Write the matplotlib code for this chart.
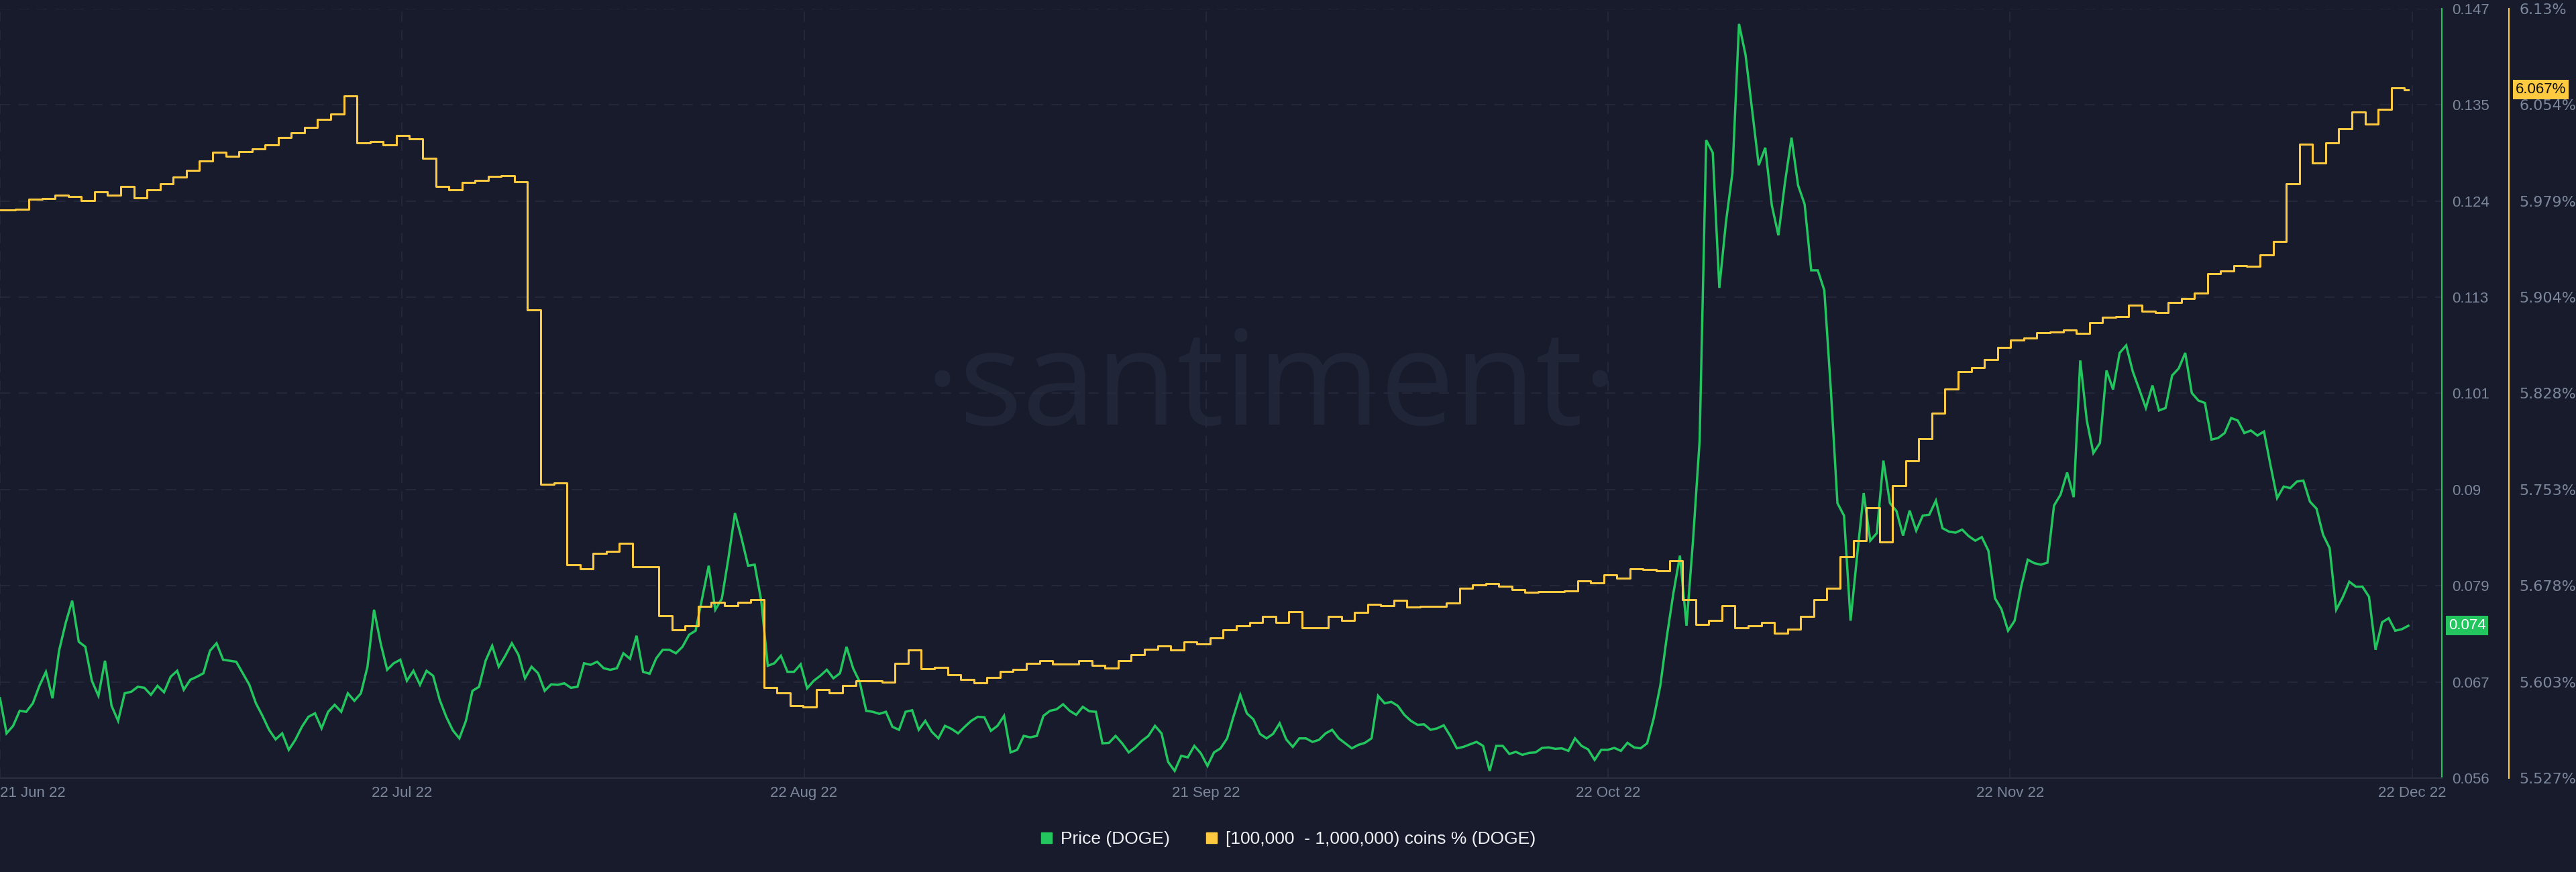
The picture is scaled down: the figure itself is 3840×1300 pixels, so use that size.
import numpy as np
import pandas as pd
import matplotlib
matplotlib.use("Agg")
import matplotlib.pyplot as plt
from matplotlib.lines import Line2D

BG = "#181b2c"
GRID = "#272b3e"
TICK = "#7c879c"
GREEN = "#22c55e"
YELLOW = "#ffc940"

# DOGE price, every 12 hours from 21 Jun 2022
price = [
    0.06544, 0.06129, 0.06218, 0.06396, 0.06384, 0.06484, 0.06691, 0.06857, 0.06544, 0.07106,
    0.07432, 0.07698, 0.07213, 0.07153, 0.06751, 0.06573, 0.06988, 0.06455, 0.06277, 0.06603,
    0.06621, 0.06680, 0.06668, 0.06585, 0.06691, 0.06615, 0.06798, 0.06869, 0.06644, 0.06763,
    0.06798, 0.06840, 0.07106, 0.07195, 0.07000, 0.06988, 0.06976, 0.06840, 0.06703, 0.06484,
    0.06336, 0.06171, 0.06058, 0.06129, 0.05934, 0.06052, 0.06206, 0.06325, 0.06366, 0.06188,
    0.06384, 0.06467, 0.06384, 0.06603, 0.06514, 0.06603, 0.06917, 0.07591, 0.07195, 0.06881,
    0.06958, 0.07000, 0.06751,
    0.06869, 0.06703, 0.06869, 0.06810, 0.06526, 0.06325, 0.06165, 0.06070, 0.06277, 0.06632,
    0.06680, 0.06988, 0.07165, 0.06917, 0.07047, 0.07195, 0.07059, 0.06780, 0.06917, 0.06840,
    0.06632, 0.06709, 0.06703, 0.06721, 0.06668, 0.06680, 0.06958, 0.06940, 0.06976, 0.06899,
    0.06881, 0.06899, 0.07076, 0.07011, 0.07284, 0.06857, 0.06834, 0.07017, 0.07118, 0.07118,
    0.07076, 0.07153, 0.07295, 0.07343, 0.07728, 0.08112, 0.07591, 0.07722, 0.08201, 0.08734,
    0.08438, 0.08112, 0.08124, 0.07698, 0.06928, 0.06958, 0.07047, 0.06857, 0.06857, 0.06946,
    0.06662, 0.06751,
    0.06810, 0.06881, 0.06780, 0.06840, 0.07153, 0.06899, 0.06739, 0.06396, 0.06384, 0.06360,
    0.06384, 0.06206, 0.06171, 0.06384, 0.06402, 0.06171, 0.06277, 0.06147, 0.06070, 0.06218,
    0.06182, 0.06129, 0.06206, 0.06277, 0.06325, 0.06319, 0.06159, 0.06218, 0.06336, 0.05904,
    0.05934, 0.06099, 0.06082, 0.06099, 0.06336, 0.06396, 0.06413, 0.06473, 0.06396, 0.06348,
    0.06443, 0.06390, 0.06384, 0.06011, 0.06017, 0.06099, 0.06011, 0.05904, 0.05963, 0.06040,
    0.06099, 0.06218, 0.06129, 0.05792, 0.05685, 0.05863, 0.05845, 0.05981, 0.05892, 0.05744,
    0.05904, 0.05952,
    0.06070, 0.06336, 0.06585, 0.06366, 0.06295, 0.06123, 0.06070, 0.06123, 0.06248, 0.06058,
    0.05969, 0.06070, 0.06070, 0.06028, 0.06052, 0.06129, 0.06171, 0.06070, 0.06011, 0.05952,
    0.05993, 0.06017, 0.06070, 0.06573, 0.06484, 0.06502, 0.06455, 0.06348, 0.06277, 0.06230,
    0.06236, 0.06171, 0.06188, 0.06224, 0.06099, 0.05952, 0.05969, 0.05999, 0.06028, 0.05981,
    0.05685, 0.05981, 0.05981, 0.05886, 0.05910, 0.05875, 0.05898, 0.05904, 0.05957, 0.05963,
    0.05946, 0.05952, 0.05922, 0.06070, 0.05981, 0.05940, 0.05815, 0.05934, 0.05934,
    0.05957, 0.05922, 0.06017, 0.05963, 0.05952, 0.06011, 0.06307, 0.06691, 0.07272, 0.07787,
    0.08231, 0.07402, 0.08420, 0.09593, 0.13145, 0.12997, 0.11398, 0.12168, 0.12760, 0.14520,
    0.14152, 0.13500, 0.12849, 0.13056, 0.12375, 0.12020, 0.12642, 0.13175, 0.12612, 0.12387,
    0.11606, 0.11606, 0.11369, 0.10185, 0.08852, 0.08704, 0.07461, 0.08231, 0.08971, 0.08408,
    0.08497, 0.09356, 0.08852, 0.08758, 0.08468, 0.08764, 0.08527, 0.08704, 0.08716, 0.08882,
    0.08556, 0.08515, 0.08503, 0.08539, 0.08462, 0.08408, 0.08450, 0.08290, 0.07728, 0.07597,
    0.07343, 0.07461,
    0.07864, 0.08183, 0.08142, 0.08124, 0.08148, 0.08823, 0.08953, 0.09214, 0.08923, 0.10540,
    0.09829, 0.09444, 0.09563, 0.10421, 0.10196, 0.10629, 0.10718, 0.10410, 0.10196, 0.09977,
    0.10244, 0.09948, 0.09977, 0.10362, 0.10445, 0.10629, 0.10155, 0.10066, 0.10037, 0.09604,
    0.09622, 0.09681, 0.09859, 0.09829, 0.09681, 0.09711, 0.09652, 0.09699, 0.09296, 0.08912,
    0.09048, 0.09030, 0.09107, 0.09119, 0.08870, 0.08787, 0.08479, 0.08320, 0.07591, 0.07739,
    0.07923, 0.07864, 0.07864, 0.07745, 0.07118, 0.07443, 0.07491, 0.07343, 0.07361, 0.07402,
]

# share of supply held by [100k - 1M) wallets, daily, in %
holders = [
    5.9721, 5.9721, 5.9729, 5.9807, 5.9811, 5.9838, 5.9830, 5.9795, 5.9866, 5.9838, 5.9909,
    5.9819, 5.9878, 5.9929, 5.9980, 6.0031, 6.0109, 6.0176, 6.0144, 6.0180, 6.0199,
    6.0231, 6.0290, 6.0325, 6.0372, 6.0435, 6.0474, 6.0619, 6.0246, 6.0258, 6.0235,
    6.0309, 6.0278, 6.0129, 5.9905, 5.9878, 5.9940, 5.9956, 5.9984, 5.9991, 5.9944,
    5.8940, 5.7575, 5.7583, 5.6943, 5.6912, 5.7030, 5.7045, 5.7112, 5.6924, 5.6927,
    5.6543, 5.6433, 5.6461, 5.6614, 5.6649, 5.6622, 5.6649, 5.6669, 5.5982, 5.5935,
    5.5837, 5.5829, 5.5962, 5.5935, 5.5994, 5.6033, 5.6033, 5.6021, 5.6170, 5.6276,
    5.6127, 5.6135, 5.6080, 5.6045, 5.6017, 5.6061, 5.6104, 5.6123, 5.6170, 5.6190,
    5.6166, 5.6162, 5.6190, 5.6151, 5.6131, 5.6190, 5.6237, 5.6280, 5.6308, 5.6276,
    5.6335, 5.6319, 5.6370, 5.6433, 5.6465, 5.6488, 5.6535, 5.6488, 5.6574, 5.6445,
    5.6449, 5.6535, 5.6504, 5.6570, 5.6633, 5.6622, 5.6661, 5.6610, 5.6614, 5.6614,
    5.6641, 5.6759, 5.6786, 5.6794, 5.6771, 5.6747, 5.6727, 5.6731, 5.6731, 5.6739,
    5.6818, 5.6802, 5.6865, 5.6837, 5.6908, 5.6904, 5.6896, 5.6975, 5.6669, 5.6476,
    5.6504, 5.6622, 5.6445, 5.6461, 5.6492, 5.6406, 5.6437, 5.6535, 5.6669, 5.6759,
    5.7006, 5.7132, 5.7387, 5.7120, 5.7563, 5.7759, 5.7928, 5.8128, 5.8320, 5.8457,
    5.8485, 5.8552, 5.8646, 5.8701, 5.8720, 5.8760, 5.8767, 5.8783, 5.8756, 5.8838,
    5.8881, 5.8889, 5.8975, 5.8928, 5.8920, 5.8995, 5.9030, 5.9073, 5.9222, 5.9246,
    5.9289, 5.9281, 5.9368, 5.9477, 5.9929, 6.0239, 6.0093, 6.0246, 6.0360, 6.0490,
    6.0395, 6.0513, 6.0682, 6.0666,
]

price_labels = ["0.056", "0.067", "0.079", "0.09", "0.101", "0.113", "0.124", "0.135", "0.147"]
pct_labels = ["5.527%", "5.603%", "5.678%", "5.753%", "5.828%", "5.904%", "5.979%", "6.054%", "6.13%"]
date_labels = ["21 Jun 22", "22 Jul 22", "22 Aug 22", "21 Sep 22", "22 Oct 22", "22 Nov 22", "22 Dec 22"]
legend_labels = ["Price (DOGE)", "[100,000  - 1,000,000) coins % (DOGE)"]

start = pd.Timestamp("2022-06-21")
price_t = start + pd.to_timedelta(np.arange(len(price)) * 12, unit="h")
hold_t = start - pd.Timedelta(hours=19.2) + pd.to_timedelta(np.arange(len(holders)), unit="D")
# close the last step at the last price sample
hold_t = list(hold_t) + [price_t[-1]]
hold_v = holders + [holders[-1]]

narrow = ["Liberation Sans Narrow", "Liberation Sans", "DejaVu Sans"]
plain = ["Liberation Sans", "DejaVu Sans"]

fig = plt.figure(figsize=(38.4, 13), dpi=100, facecolor=BG)
ax = fig.add_axes([0.0, 0.1077, 3640 / 3840, 0.8823])
ax.set_facecolor(BG)
ax2 = ax.twinx()
ax2.patch.set_visible(False)

# watermark
ax.text(0.5206, 0.4595, "\u00b7santiment\u00b7", transform=ax.transAxes, ha="center", va="baseline",
        fontsize=142, color="#212538", family=["Open Sans", "DejaVu Sans"], zorder=0)

ax.plot(price_t, price, color=GREEN, lw=2.5, zorder=3, solid_joinstyle="miter")
ax2.plot(hold_t, hold_v, color=YELLOW, lw=2.2, drawstyle="steps-post", zorder=3)

x0 = start
x1 = start + pd.Timedelta(days=186.05)
ax.set_xlim(x0, x1)
ax.set_ylim(0.056, 0.147)
ax2.set_ylim(5.527, 6.13)

xt = [start + pd.Timedelta(days=30.63 * i) for i in range(len(date_labels))]
ax.set_xticks(xt)
ax.set_xticklabels(date_labels)
ax.get_xticklabels()[0].set_ha("left")

ax.set_yticks(np.linspace(0.056, 0.147, len(price_labels)))
ax.set_yticklabels(price_labels)
ax2.set_yticks(np.linspace(5.527, 6.13, len(pct_labels)))
ax2.set_yticklabels(pct_labels)

ax.yaxis.tick_right()
ax.tick_params(axis="y", length=0, pad=11, labelcolor=TICK, labelsize=16)
ax2.tick_params(axis="y", length=0, pad=11, labelcolor=TICK, labelsize=16)
ax.tick_params(axis="x", length=0, pad=9, labelcolor=TICK, labelsize=16)
for t in ax.get_yticklabels() + ax2.get_yticklabels():
    t.set_family(plain)
for t in ax.get_xticklabels():
    t.set_family(narrow)

ax.grid(True, color=GRID, lw=1.1, linestyle=(0, (10, 8)), zorder=1)
ax.set_axisbelow(True)

for s in ["top", "left"]:
    ax.spines[s].set_visible(False)
ax.spines["bottom"].set_color("#2a2e42")
ax.spines["bottom"].set_linewidth(1.5)
ax.spines["right"].set_color(GREEN)
ax.spines["right"].set_linewidth(1.5)
for s in ["top", "left", "bottom"]:
    ax2.spines[s].set_visible(False)
ax2.spines["right"].set_position(("axes", 3740 / 3640))
ax2.spines["right"].set_color(YELLOW)
ax2.spines["right"].set_linewidth(1.5)

# last value badges
ax.annotate(f"{price[-1]:.3f}", xy=(1, price[-1]), xycoords=ax.get_yaxis_transform(),
            xytext=(7, 0), textcoords="offset points", ha="left", va="center",
            color="white", fontsize=16, family=plain, annotation_clip=False, zorder=5,
            bbox=dict(boxstyle="square,pad=0.18", fc=GREEN, ec="none"))
ax2.annotate(f"{holders[-1]:.3f}%", xy=(3740 / 3640, holders[-1]), xycoords=ax2.get_yaxis_transform(),
             xytext=(7, 0), textcoords="offset points", ha="left", va="center",
             color="#111111", fontsize=16, family=plain, annotation_clip=False, zorder=5,
             bbox=dict(boxstyle="square,pad=0.18", fc=YELLOW, ec="none"))

handles = [Line2D([], [], marker="s", ls="none", color=GREEN, markersize=12),
           Line2D([], [], marker="s", ls="none", color=YELLOW, markersize=12)]
leg = fig.legend(handles, legend_labels, loc="center", bbox_to_anchor=(0.5, 0.0377), ncol=2,
                 frameon=False, handlelength=0.7, handletextpad=0.45, columnspacing=2.0,
                 prop={"family": narrow, "size": 19})
for t in leg.get_texts():
    t.set_color("#eef0f4")

fig.savefig("out.png", dpi=100, facecolor=BG)
